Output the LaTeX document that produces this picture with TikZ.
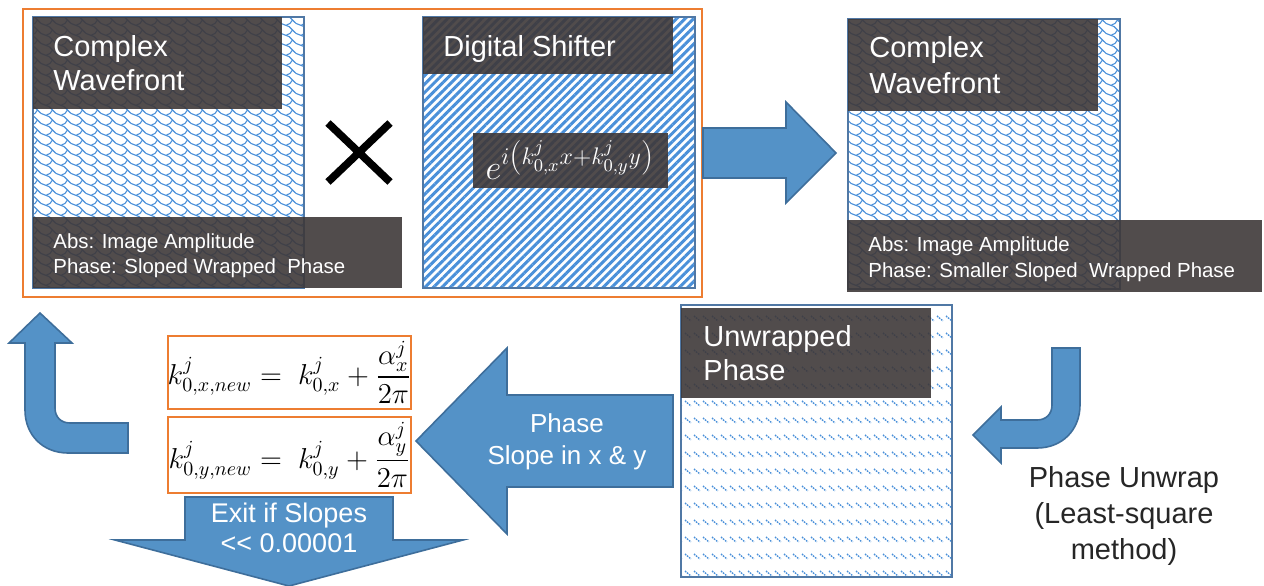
\documentclass[tikz,border=0pt]{standalone}
\usepackage{amsmath}
\usepackage{fontspec}
\setmainfont{Liberation Sans}
\usetikzlibrary{patterns,patterns.meta}

\definecolor{orng}{RGB}{237,125,49}
\definecolor{pblue}{RGB}{74,144,217}
\definecolor{bline}{RGB}{80,120,165}
\definecolor{dbox}{RGB}{62,56,57}
\definecolor{afill}{RGB}{84,146,199}
\definecolor{aline}{RGB}{62,110,155}
\definecolor{txt}{RGB}{38,38,38}

\pgfdeclarepatternformonly{shingle}{\pgfqpoint{-1pt}{-1pt}}{\pgfqpoint{9pt}{6pt}}{\pgfqpoint{7.5pt}{5pt}}{%
  \pgfsetlinewidth{0.55pt}%
  \pgfpathmoveto{\pgfqpoint{0pt}{5pt}}%
  \pgfpathcurveto{\pgfqpoint{3pt}{5pt}}{\pgfqpoint{4.5pt}{0pt}}{\pgfqpoint{7.5pt}{0pt}}%
  \pgfusepath{stroke}%
  \pgfpathmoveto{\pgfqpoint{3.75pt}{2.5pt}}%
  \pgfpathcurveto{\pgfqpoint{3.2pt}{1pt}}{\pgfqpoint{2pt}{0.3pt}}{\pgfqpoint{0.8pt}{0pt}}%
  \pgfusepath{stroke}%
}
\pgfdeclarepatternformonly{dashdiag}{\pgfqpoint{-0.5pt}{-0.5pt}}{\pgfqpoint{5pt}{9pt}}{\pgfqpoint{4.5pt}{8.5pt}}{%
  \pgfsetlinewidth{0.7pt}%
  \pgfsetdash{{0.8pt}{0.5pt}}{0pt}%
  \pgfpathmoveto{\pgfqpoint{0.5pt}{7pt}}%
  \pgfpathlineto{\pgfqpoint{3.5pt}{4.5pt}}%
  \pgfusepath{stroke}%
}

\tikzset{
  panel/.style={draw=bline, line width=1pt},
  darkbox/.style={fill=dbox, fill opacity=0.9},
  bigtitle/.style={text=white, font=\fontsize{14.5}{17}\selectfont, anchor=base west, inner sep=0pt},
  smalltxt/.style={text=white, font=\fontsize{10.2}{12}\selectfont, anchor=base west, inner sep=0pt},
  blockarrow/.style={fill=afill, draw=aline, line width=0.8pt, line join=miter},
  arrowtxt/.style={text=white, font=\fontsize{13}{16}\selectfont, inner sep=0pt, align=center},
  fbox/.style={draw=orng, line width=0.9pt, fill=white, minimum width=121.5pt, inner sep=0pt, font=\fontsize{13.7}{16}\selectfont},
}

\begin{document}
\begin{tikzpicture}[x=0.5pt,y=-0.5pt]
\useasboundingbox (0,0) rectangle (1264,585);

% ---------- orange outer frame ----------
\draw[orng, line width=1.2pt] (23,9) rectangle (702,297);

% ---------- panel 1: complex wavefront ----------
\fill[pattern=shingle, pattern color=pblue] (33,17) rectangle (304,288);
\draw[panel] (33,17) rectangle (304,288);
\fill[darkbox] (33,17) rectangle (282,109);
\fill[darkbox] (33,217) rectangle (402,288);
\node[bigtitle] (c1a) at (53,56) {Complex};
\node[bigtitle] (c1b) at (53,90) {Wavefront};
\node[smalltxt] (c1c) at (53,248) {Abs: Image Amplitude};
\node[smalltxt] (c1d) at (53,273) {Phase: Sloped Wrapped\ \ Phase};

% ---------- multiplication sign ----------
\draw[line width=3.8pt, black] (328,123) -- (390,182) (390,123) -- (328,182);

% ---------- panel 2: digital shifter ----------
\fill[pattern={Lines[angle=45,distance=3pt,line width=1.5pt]}, pattern color=pblue] (423,17) rectangle (695,288);
\draw[panel] (423,17) rectangle (695,288);
\fill[darkbox] (423,17) rectangle (673,74);
\node[bigtitle] (dsa) at (443,56) {Digital Shifter};
\fill[darkbox] (473,133) rectangle (668,188);
\node[text=white, inner sep=0pt, font=\fontsize{18}{22}\selectfont] (dsf) at (570,160)
  {$e^{i\left(k^{j}_{0,x}x+k^{j}_{0,y}y\right)}$};

% ---------- big right arrow ----------
\draw[blockarrow] (703,128) -- (786,128) -- (786,102) -- (836,153) -- (786,203) -- (786,178) -- (703,178) -- cycle;

% ---------- panel 3: complex wavefront (right) ----------
\fill[pattern=shingle, pattern color=pblue] (848,19) rectangle (1120,289);
\draw[panel] (848,19) rectangle (1120,289);
\fill[darkbox] (848,19) rectangle (1098,111);
\fill[darkbox] (847,220) rectangle (1262,292);
\node[bigtitle] (c3a) at (869,57) {Complex};
\node[bigtitle] (c3b) at (869,93) {Wavefront};
\node[smalltxt] (c3c) at (868,251) {Abs: Image Amplitude};
\node[smalltxt] (c3d) at (868,277) {Phase: Smaller Sloped\ \ Wrapped Phase};

% ---------- panel 4: unwrapped phase ----------
\fill[pattern=dashdiag, pattern color=pblue] (681,305) rectangle (952,577);
\draw[panel] (681,305) rectangle (952,577);
\fill[darkbox] (681,308) rectangle (931,398);
\node[bigtitle] (upa) at (703,346) {Unwrapped};
\node[bigtitle] (upb) at (703,380) {Phase};

% ---------- J arrow (phase unwrap) ----------
\draw[blockarrow] (1052,348) -- (1080,348) -- (1080,405)
  .. controls (1080,430) and (1062,448) .. (1037,448)
  -- (1001,448) -- (1001,463) -- (973,435) -- (1001,407) -- (1001,420) -- (1037,420)
  .. controls (1046,420) and (1052,414) .. (1052,405) -- cycle;
\node[text=txt, font=\fontsize{14.5}{18}\selectfont, align=center, inner sep=0pt] (unw) at (1124,516)
  {Phase Unwrap\\ (Least-square\\ method)};

% ---------- left arrow: phase slope ----------
\draw[blockarrow] (673,395) -- (507,395) -- (507,348) -- (416,441) -- (507,534) -- (507,487) -- (673,487) -- cycle;
\node[arrowtxt] (slope) at (567,442) {Phase\\Slope in x \& y};

% ---------- formula boxes ----------
\node[fbox, minimum height=36.5pt] (fx) at (289.5,372.5)
  {$k^{j}_{0,x,new}=\;k^{j}_{0,x}+\dfrac{\alpha^{j}_{x}}{2\pi}$};
\node[fbox, minimum height=38pt] (fy) at (289.5,455)
  {$k^{j}_{0,y,new}=\;k^{j}_{0,y}+\dfrac{\alpha^{j}_{y}}{2\pi}$};

% ---------- bottom exit arrow ----------
\draw[blockarrow] (185,497) -- (393,497) -- (393,540) -- (463,540) -- (289,586) -- (115,540) -- (185,540) -- cycle;
\node[arrowtxt, font=\fontsize{13.5}{15}\selectfont] (exit) at (289,528) {Exit if Slopes\\<{}< 0.00001};

% ---------- top-left up arrow ----------
\draw[blockarrow] (128,423) -- (70,423)
  .. controls (61,423) and (55,417) .. (55,408)
  -- (55,343) -- (72,343) -- (40,313) -- (9,343) -- (25,343) -- (25,410)
  .. controls (25,435) and (43,453) .. (68,453) -- (128,453) -- cycle;
\end{tikzpicture}
\end{document}
